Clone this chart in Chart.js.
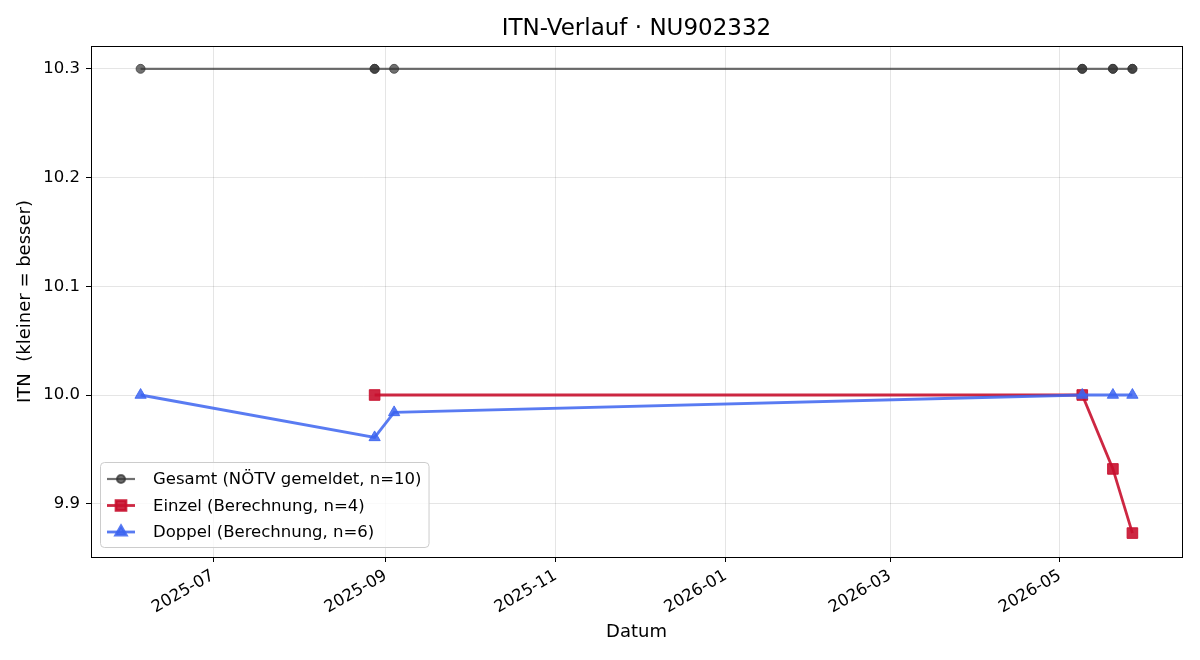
<!DOCTYPE html>
<html>
<head>
<meta charset="utf-8">
<script src="https://cdn.jsdelivr.net/npm/chart.js@4/dist/chart.umd.min.js"></script>
<style>
  body { margin: 0; background: #fff; }
  #wrap { width: 1200px; height: 660px; }
</style>
</head>
<body>
<div id="wrap"><canvas id="myChart" width="1200" height="660"></canvas></div>
<script>
// data
const gesamtDates = ['2025-06-05', '2025-08-28', '2025-08-28', '2025-09-04', '2026-05-09', '2026-05-09', '2026-05-20', '2026-05-20', '2026-05-27', '2026-05-27'];
const gesamtValues = [10.3, 10.3, 10.3, 10.3, 10.3, 10.3, 10.3, 10.3, 10.3, 10.3];
const einzelDates = ['2025-08-28', '2026-05-09', '2026-05-20', '2026-05-27'];
const einzelValues = [10.0, 10.0, 9.932, 9.873];
const doppelDates = ['2025-06-05', '2025-08-28', '2025-09-04', '2026-05-09', '2026-05-20', '2026-05-27'];
const doppelValues = [10.0, 9.961, 9.984, 10.0, 10.0, 10.0];
const xTickDates = ['2025-07-01', '2025-09-01', '2025-11-01', '2026-01-01', '2026-03-01', '2026-05-01'];
const yTicks = [9.9, 10.0, 10.1, 10.2, 10.3];
const chartTitle = 'ITN-Verlauf · NU902332';

function toMs(s) {
    const p = s.split('-');
    return Date.UTC(+p[0], +p[1] - 1, +p[2]);
}
function points(dates, values) {
    return dates.map((d, i) => ({x: toMs(d), y: values[i]}));
}

const allMs = gesamtDates.concat(einzelDates, doppelDates).map(toMs);
const xMin = Math.min(...allMs), xMax = Math.max(...allMs);
const xPad = (xMax - xMin) * 0.05;

const grayC = 'rgba(51,51,51,0.7)';
const redC = 'rgba(200,16,46,0.9)';
const blueC = 'rgba(60,100,240,0.85)';

const series = [
    {label: 'Gesamt (NÖTV gemeldet, n=10)', color: grayC, style: 'circle', radius: 4.5, legRadius: 4, width: 2.2},
    {label: 'Einzel (Berechnung, n=4)', color: redC, style: 'rect', radius: 7.5, legRadius: 7, width: 2.8},
    {label: 'Doppel (Berechnung, n=6)', color: blueC, style: 'triangle', radius: 6.5, legRadius: 6, width: 2.8}
];

const FONT = 'DejaVu Sans';
const TICK_SIZE = 16.5;
const LABEL_SIZE = 18;

// black frame around the plot + title centred over the axes
const framePlugin = {
    id: 'frame',
    afterDraw(chart) {
        const a = chart.chartArea;
        const ctx = chart.ctx;
        ctx.save();
        ctx.strokeStyle = '#000';
        ctx.lineWidth = 1;
        ctx.strokeRect(Math.round(a.left) + 0.5, Math.round(a.top) + 0.5, Math.round(a.right - a.left), Math.round(a.bottom - a.top));
        ctx.font = '23px "' + FONT + '"';
        ctx.fillStyle = '#000';
        ctx.textAlign = 'center';
        ctx.textBaseline = 'middle';
        ctx.fillText(chartTitle, (a.left + a.right) / 2, 29);
        ctx.restore();
    }
};

// matplotlib style legend, lower left inside the plot
const legendPlugin = {
    id: 'mplLegend',
    afterDraw(chart) {
        const a = chart.chartArea;
        const ctx = chart.ctx;
        ctx.save();
        ctx.font = TICK_SIZE + 'px "' + FONT + '"';
        let maxW = 0;
        series.forEach(s => { maxW = Math.max(maxW, ctx.measureText(s.label).width); });
        const bx = a.left + 9, bh = 85, by = a.bottom - 10 - bh;
        const bw = 53 + maxW + 7;
        ctx.beginPath();
        ctx.roundRect(bx + 0.5, by + 0.5, bw, bh, 4);
        ctx.fillStyle = 'rgba(255,255,255,0.8)';
        ctx.fill();
        ctx.strokeStyle = '#cccccc';
        ctx.lineWidth = 1;
        ctx.stroke();
        series.forEach((s, i) => {
            const y = by + 17 + i * 26.5;
            ctx.beginPath();
            ctx.moveTo(bx + 7, y);
            ctx.lineTo(bx + 35, y);
            ctx.strokeStyle = s.color;
            ctx.lineWidth = s.width;
            ctx.stroke();
            ctx.fillStyle = s.color;
            ctx.strokeStyle = s.color;
            Chart.helpers.drawPoint(ctx, {pointStyle: s.style, radius: s.legRadius, borderWidth: 1, rotation: 0}, bx + 21, y);
            ctx.fillStyle = '#000';
            ctx.textBaseline = 'middle';
            ctx.textAlign = 'left';
            ctx.fillText(s.label, bx + 53, y + 1);
        });
        ctx.restore();
    }
};

document.addEventListener('DOMContentLoaded', function() {
    const ctx = document.getElementById('myChart');
    const datasets = [
        {data: points(gesamtDates, gesamtValues), order: 2},
        {data: points(einzelDates, einzelValues), order: 1},
        {data: points(doppelDates, doppelValues), order: 0}
    ].map((d, i) => Object.assign(d, {
        label: series[i].label,
        borderColor: series[i].color,
        backgroundColor: series[i].color,
        borderWidth: series[i].width,
        pointStyle: series[i].style,
        pointRadius: series[i].radius,
        pointBorderWidth: 1,
        pointBackgroundColor: series[i].color,
        pointBorderColor: series[i].color,
        tension: 0,
        fill: false
    }));

    new Chart(ctx, {
        type: 'line',
        data: {datasets: datasets},
        plugins: [framePlugin, legendPlugin],
        options: {
            responsive: false,
            animation: false,
            layout: {padding: {left: 0, right: 18, top: 46, bottom: 0}},
            plugins: {
                legend: {display: false},
                tooltip: {enabled: false},
                title: {display: false}
            },
            scales: {
                x: {
                    type: 'linear',
                    min: xMin - xPad,
                    max: xMax + xPad,
                    afterBuildTicks: function(scale) {
                        scale.ticks = xTickDates.map(d => ({value: toMs(d)}));
                    },
                    afterFit: function(scale) { scale.height = 103; },
                    ticks: {
                        autoSkip: false,
                        minRotation: 30,
                        maxRotation: 30,
                        padding: 4,
                        color: '#000',
                        font: {family: FONT, size: TICK_SIZE},
                        callback: function(v) {
                            const d = new Date(v);
                            return d.getUTCFullYear() + '-' + String(d.getUTCMonth() + 1).padStart(2, '0');
                        }
                    },
                    grid: {color: 'rgba(0,0,0,0.1)', tickColor: '#000', tickLength: 5},
                    border: {display: false},
                    title: {
                        display: true,
                        text: 'Datum',
                        color: '#000',
                        font: {family: FONT, size: LABEL_SIZE},
                        padding: {top: 4, bottom: 17}
                    }
                },
                y: {
                    min: 9.851,
                    max: 10.321,
                    afterBuildTicks: function(scale) {
                        scale.ticks = yTicks.map(v => ({value: v}));
                    },
                    afterFit: function(scale) { scale.width = 91; },
                    ticks: {
                        padding: 6,
                        color: '#000',
                        font: {family: FONT, size: TICK_SIZE},
                        callback: function(v) { return v.toFixed(1); }
                    },
                    grid: {color: 'rgba(0,0,0,0.1)', tickColor: '#000', tickLength: 5},
                    border: {display: false},
                    title: {
                        display: true,
                        text: 'ITN  (kleiner = besser)',
                        color: '#000',
                        font: {family: FONT, size: LABEL_SIZE},
                        padding: {top: 15, bottom: 0}
                    }
                }
            }
        }
    });
});
</script>
</body>
</html>
